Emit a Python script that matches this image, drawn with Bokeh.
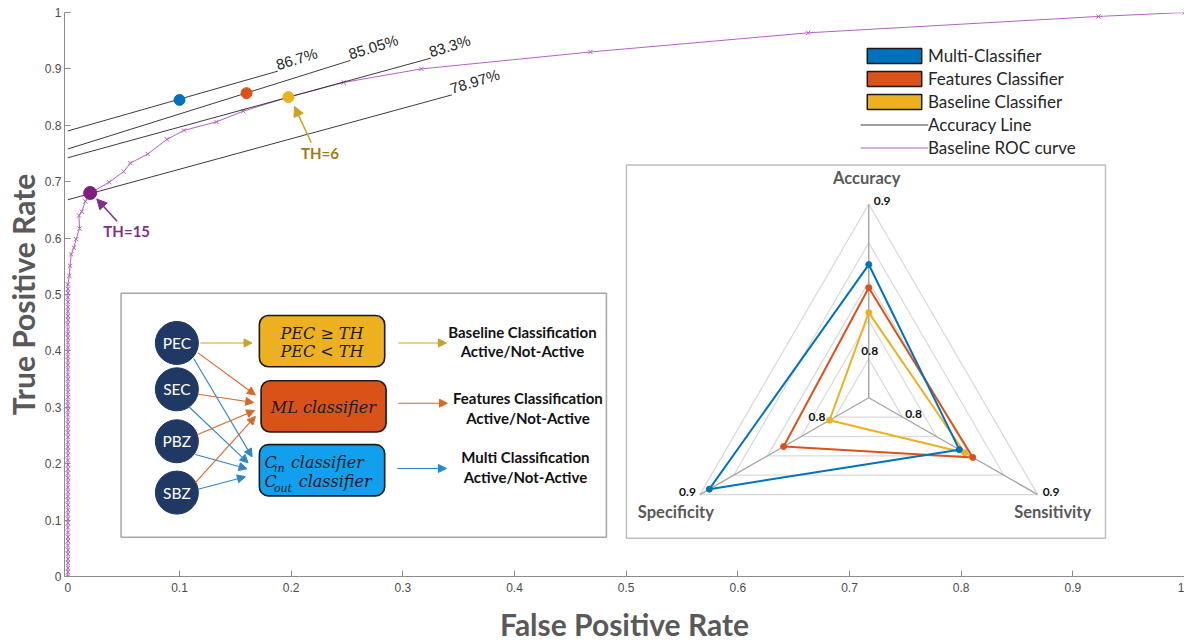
import math
from bokeh.plotting import figure
from bokeh.models import (Range1d, FixedTicker, CustomJSTickFormatter, Legend, LegendItem,
                          Arrow, NormalHead)
from bokeh.core.properties import value
from bokeh.embed import file_html
from bokeh.resources import INLINE

# ---------------- data ----------------
x_ticks = [0, 0.1, 0.2, 0.3, 0.4, 0.5, 0.6, 0.7, 0.8, 0.9, 1.0]
y_ticks = [0, 0.1, 0.2, 0.3, 0.4, 0.5, 0.6, 0.7, 0.8, 0.9, 1.0]

# baseline ROC curve (threshold sweep)
roc_fpr = [0, 0, 0, 0, 0, 0, 0, 0, 0, 0, 0, 0, 0, 0, 0, 0, 0, 0, 0, 0, 0, 0, 0, 0, 0, 0,
           0, 0, 0, 0, 0, 0, 0, 0, 0, 0, 0, 0, 0, 0, 0, 0, 0, 0, 0, 0, 0, 0, 0, 0, 0, 0,
           0, 0, 0, 0, 0, 0, 0, 0, 0, 0, 0, 0, 0, 0,
           0.0013, 0.002, 0.003, 0.0054, 0.0074, 0.0105, 0.0099, 0.0125, 0.0157, 0.020,
           0.037, 0.050, 0.056, 0.0715, 0.0887, 0.104, 0.133, 0.157, 0.1975, 0.247,
           0.3166, 0.468, 0.663, 0.923, 1.0]
roc_tpr = [0, 0.008, 0.015, 0.024, 0.031, 0.04, 0.047, 0.055, 0.063, 0.07, 0.078, 0.087,
           0.095, 0.102, 0.11, 0.118, 0.127, 0.135, 0.142, 0.15, 0.158, 0.167, 0.175,
           0.183, 0.19, 0.198, 0.206, 0.215, 0.223, 0.23, 0.238, 0.247, 0.255, 0.262,
           0.27, 0.278, 0.287, 0.295, 0.303, 0.31, 0.318, 0.327, 0.335, 0.342, 0.35,
           0.358, 0.367, 0.375, 0.383, 0.39, 0.398, 0.406, 0.415, 0.423, 0.43, 0.438,
           0.447, 0.455, 0.462, 0.47, 0.478, 0.487, 0.495, 0.503, 0.51, 0.518,
           0.533, 0.551, 0.571, 0.583, 0.598, 0.617, 0.640, 0.647, 0.665, 0.680,
           0.699, 0.718, 0.733, 0.749, 0.775, 0.791, 0.806, 0.825, 0.850, 0.876,
           0.900, 0.930, 0.964, 0.993, 1.0]

classifiers = ["Multi-Classifier", "Features Classifier", "Baseline Classifier"]
clf_colors = ["#0072BD", "#D95319", "#EDB120"]
clf_fpr = [0.100, 0.160, 0.1975]
clf_tpr = [0.845, 0.857, 0.850]
th15_fpr = [0.020]
th15_tpr = [0.680]

acc_labels = ["86.7%", "85.05%", "83.3%", "78.97%"]
acc_x0 = [0, 0, 0, 0]
acc_y0 = [0.790, 0.758, 0.7425, 0.668]
acc_x1 = [0.188, 0.253, 0.325, 0.344]
acc_y1 = [0.896, 0.915, 0.919, 0.854]

radar_axes = ["Accuracy", "Sensitivity", "Specificity"]
radar_acc = [0.861, 0.846, 0.830]
radar_sens = [0.842, 0.852, 0.846]
radar_spec = [0.893, 0.838, 0.804]
radar_min, radar_max = 0.775, 0.9
radar_rings = [0.8, 0.825, 0.85, 0.875, 0.9]

inputs = ["PEC", "SEC", "PBZ", "SBZ"]
out_line1 = ["Baseline Classification", "Features Classification", "Multi Classification"]
out_line2 = ["Active/Not-Active", "Active/Not-Active", "Active/Not-Active"]

# ---------------- layout helpers (reference pixel -> data space) ----------------
def X(px):
    return (px - 67.5) / 1116.5

def Y(py):
    return (579.5 - py) / 568.0

W, H = 1184, 644
p = figure(width=W, height=H, x_range=Range1d(-0.003, 1), y_range=Range1d(0, 1),
           output_backend="svg", toolbar_location=None,
           min_border_left=64, min_border_right=0, min_border_top=12, min_border_bottom=64)
p.xgrid.visible = False
p.ygrid.visible = False
p.outline_line_color = None
p.background_fill_color = "white"

fmt = CustomJSTickFormatter(code="if (Math.abs(tick) < 1e-9) return '0'; if (Math.abs(tick-1) < 1e-9) return '1'; return tick.toFixed(1);")
for ax, ticks in ((p.xaxis[0], x_ticks), (p.yaxis[0], y_ticks)):
    ax.ticker = FixedTicker(ticks=ticks)
    ax.formatter = fmt
    ax.axis_line_color = "#8c8c8c"
    ax.major_tick_line_color = "#8c8c8c"
    ax.major_tick_in = 6
    ax.major_tick_out = 0
    ax.minor_tick_line_color = None
    ax.major_label_text_font = "Liberation Sans"
    ax.major_label_text_font_size = "12px"
    ax.major_label_text_color = "#4d4d4d"
    ax.axis_label_text_font = "Lato"
    ax.axis_label_text_font_style = "bold"
    ax.axis_label_text_font_size = "30px"
    ax.axis_label_text_color = "#595959"
p.xaxis.axis_label = "False Positive Rate"
p.yaxis.axis_label = "True Positive Rate"
p.xaxis.major_label_standoff = 6
p.yaxis.major_label_standoff = 3
p.xaxis.axis_label_standoff = 11
p.yaxis.axis_label_standoff = 1

ROC_C = "#B661C6"
# ROC curve
roc_line = p.line(roc_fpr, roc_tpr, line_color=ROC_C, line_width=1)
p.scatter(roc_fpr, roc_tpr, marker="x", size=6, line_color=ROC_C, line_width=1)

# accuracy lines
acc_seg = p.segment(x0=acc_x0, y0=acc_y0, x1=acc_x1, y1=acc_y1, line_color="#262626", line_width=0.9)
p.text(x=acc_x1, y=acc_y1, text=acc_labels, angle=17, angle_units="deg", x_offset=1, y_offset=2,
       text_font=value("Liberation Sans"), text_font_size="15px", text_color="#262626",
       text_align="left", text_baseline="bottom")

# classifier operating points
p.scatter(clf_fpr, clf_tpr, marker="circle", size=11, fill_color=clf_colors, line_color=clf_colors)
p.scatter(th15_fpr, th15_tpr, marker="circle", size=13, fill_color="#7E1E80", line_color="#7E1E80")

# TH annotations
TH6_C = "#A07A12"
TH15_C = "#7E2F8E"
bx, by = clf_fpr[2], clf_tpr[2]
p.add_layout(Arrow(end=NormalHead(size=10, fill_color="#C9A227", line_color="#C9A227"),
                   x_start=bx + 0.0205, y_start=by - 0.081, x_end=bx + 0.0054, y_end=by - 0.0164,
                   line_color="#C9A227", line_width=1.5))
p.text(x=[bx + 0.0283], y=[by - 0.0986], text=["TH=6"], text_font=value("Lato"),
       text_font_style="bold", text_font_size="15px", text_color=TH6_C,
       text_align="center", text_baseline="middle")
tx, ty = th15_fpr[0], th15_tpr[0]
p.add_layout(Arrow(end=NormalHead(size=10, fill_color=TH15_C, line_color=TH15_C),
                   x_start=tx + 0.0241, y_start=ty - 0.050, x_end=tx + 0.0059, y_end=ty - 0.0106,
                   line_color=TH15_C, line_width=1.5))
p.text(x=[tx + 0.0327], y=[ty - 0.068], text=["TH=15"], text_font=value("Lato"),
       text_font_style="bold", text_font_size="15px", text_color=TH15_C,
       text_align="center", text_baseline="middle")

# ---------------- diagram inset ----------------
p.quad(left=[X(120.7)], right=[X(606)], top=[Y(294.3)], bottom=[Y(540)],
       fill_color="white", line_color="#A6A6A6", line_width=1.5)

circ_px = 176.5
circ_py = [344.3, 391.0, 443.3, 495.0]
p.scatter([X(circ_px)] * 4, [Y(v) for v in circ_py], marker="circle", size=43,
          fill_color="#1F3864", line_color="#1F3864")
p.text(x=[X(circ_px)] * 4, y=[Y(v) for v in circ_py], text=inputs, text_font=value("Lato"),
       text_font_size="15.5px", text_color="white", text_align="center", text_baseline="middle")

box_l = [259.0, 260.7, 259.0]
box_r = [384.3, 385.7, 384.3]
box_t = [316.7, 382.3, 446.7]
box_b = [368.3, 434.0, 498.3]
box_fill = ["#EDB120", "#D95319", "#12A0EE"]
p.quad(left=[X(v) for v in box_l], right=[X(v) for v in box_r],
       top=[Y(v) for v in box_t], bottom=[Y(v) for v in box_b],
       fill_color=box_fill, line_color="#1a1a1a", line_width=1.6, border_radius=9)

MF = value("DejaVu Serif")
p.text(x=[X(321.5), X(321.5), X(323)], y=[Y(334.3), Y(353.3), Y(409)],
       text=["PEC ≥ TH", "PEC < TH", "ML classifier"], text_font=MF, text_font_style="italic",
       text_font_size="16px", text_color="#1a1a1a", text_align="center", text_baseline="middle")
p.text(x=[X(264), X(264)], y=[Y(464.3), Y(484)], text=["C", "C"], text_font=MF,
       text_font_style="italic", text_font_size="16px", text_color="#1a1a1a",
       text_align="left", text_baseline="middle")
p.text(x=[X(273.5), X(273.5)], y=[Y(471), Y(490.5)], text=["in", "out"], text_font=MF,
       text_font_style="italic", text_font_size="11px", text_color="#1a1a1a",
       text_align="left", text_baseline="middle")
p.text(x=[X(290.5), X(298.3)], y=[Y(464.3), Y(484)], text=["classifier", "classifier"],
       text_font=MF, text_font_style="italic", text_font_size="16px", text_color="#1a1a1a",
       text_align="left", text_baseline="middle")

ARR_Y = "#C9A227"
ARR_O = "#D5692B"
ARR_B = "#2E86C8"
arrows = [
    (200.0, 344.3, 251.7, 344.3, ARR_Y),
    (197.7, 354.3, 255.0, 396.7, ARR_O),
    (193.3, 360.0, 251.7, 459.0, ARR_B),
    (197.7, 396.0, 253.3, 404.3, ARR_O),
    (188.3, 408.3, 247.7, 465.0, ARR_B),
    (196.7, 436.7, 254.3, 412.3, ARR_O),
    (195.0, 456.7, 246.7, 471.0, ARR_B),
    (195.0, 485.0, 255.0, 418.3, ARR_O),
    (197.7, 491.7, 245.0, 479.0, ARR_B),
    (398.0, 344.3, 446.0, 344.3, ARR_Y),
    (398.0, 405.0, 447.0, 405.0, ARR_O),
    (397.0, 470.7, 446.0, 470.7, ARR_B),
]
for x0, y0, x1, y1, c in arrows:
    p.add_layout(Arrow(end=NormalHead(size=8, fill_color=c, line_color=c),
                       x_start=X(x0), y_start=Y(y0), x_end=X(x1), y_end=Y(y1),
                       line_color=c, line_width=1.1))

out_cx = [522.0, 527.5, 525.0]
out_y1 = [333.0, 400.0, 459.0]
out_y2 = [352.5, 419.5, 479.0]
p.text(x=[X(v) for v in out_cx] * 2, y=[Y(v) for v in out_y1] + [Y(v) for v in out_y2],
       text=out_line1 + out_line2, text_font=value("Lato"), text_font_style="bold",
       text_font_size="15px", text_color="#111111", text_align="center", text_baseline="middle")

# ---------------- radar inset ----------------
p.quad(left=[X(626)], right=[X(1105)], top=[Y(165)], bottom=[Y(541)],
       fill_color="white", line_color="#BFBFBF", line_width=1.5)

RCX, RCY, RR = 868.3, 399.5, 195.0
ANG = [90.0, -30.0, 210.0]  # Accuracy, Sensitivity, Specificity

def rpx(v, ang):
    r = RR * (v - radar_min) / (radar_max - radar_min)
    a = math.radians(ang)
    return RCX + r * math.cos(a), RCY - r * math.sin(a)

def rpt(v, ang):
    px, py = rpx(v, ang)
    return X(px), Y(py)

# rings
ring_xs, ring_ys = [], []
for rv in radar_rings:
    pts = [rpt(rv, a) for a in ANG + [ANG[0]]]
    ring_xs.append([q[0] for q in pts])
    ring_ys.append([q[1] for q in pts])
p.multi_line(ring_xs, ring_ys, line_color="#D9D9D9", line_width=1.2)
# spokes
spk = [rpt(radar_max, a) for a in ANG]
cxd, cyd = rpt(radar_min, 90)
p.segment(x0=[cxd] * 3, y0=[cyd] * 3, x1=[q[0] for q in spk], y1=[q[1] for q in spk],
          line_color="#A6A6A6", line_width=1.4)

# series polygons
series = [radar_acc, radar_sens, radar_spec]
for i in [2, 1, 0]:
    vals = [series[k][i] for k in range(3)]
    pts = [rpt(vals[k], ANG[k]) for k in range(3)]
    xs = [q[0] for q in pts] + [pts[0][0]]
    ys = [q[1] for q in pts] + [pts[0][1]]
    p.line(xs, ys, line_color=clf_colors[i], line_width=2)
    p.scatter(xs[:3], ys[:3], marker="circle", size=6, fill_color=clf_colors[i], line_color=clf_colors[i])

# radar axis titles
t_acc = rpx(radar_max, 90)
t_sen = rpx(radar_max, -30)
t_spe = rpx(radar_max, 210)
p.text(x=[X(t_acc[0] - 2), X(t_sen[0] + 15), X(t_spe[0] - 24)],
       y=[Y(t_acc[1] - 26), Y(t_sen[1] + 18), Y(t_spe[1] + 18)],
       text=radar_axes, text_font=value("Lato"), text_font_style="bold", text_font_size="16.5px",
       text_color="#595959", text_align="center", text_baseline="middle")
# radar value labels
p.text(x=[X(t_acc[0] + 5), X(t_sen[0] + 5)], y=[Y(t_acc[1] - 3), Y(t_sen[1] - 3)],
       text=["0.9", "0.9"], text_font=value("Lato"), text_font_style="bold", text_font_size="12px",
       text_color="#111111", text_align="left", text_baseline="middle")
p.text(x=[X(t_spe[0] - 4)], y=[Y(t_spe[1] - 3)], text=["0.9"], text_font=value("Lato"),
       text_font_style="bold", text_font_size="12px", text_color="#111111",
       text_align="right", text_baseline="middle")
r8a = rpx(radar_rings[0], 90)
r8s = rpx(radar_rings[0], -30)
r8p = rpx(radar_rings[0], 210)
p.text(x=[X(r8a[0] + 1), X(r8s[0] + 11), X(r8p[0] - 18)],
       y=[Y(r8a[1] - 8), Y(r8s[1] - 3), Y(r8p[1])],
       text=["0.8", "0.8", "0.8"], text_font=value("Lato"), text_font_style="bold",
       text_font_size="12px", text_color="#111111", text_align="center", text_baseline="middle")

# ---------------- legend ----------------
# swatch renderers sit outside the visible ranges; they only feed the legend
leg_r = [p.quad(left=[-2], right=[-1.9], top=[-1.9], bottom=[-2], fill_color=c,
                line_color="#1a1a1a", line_width=1.5) for c in clf_colors]
items = [LegendItem(label=classifiers[i], renderers=[leg_r[i]]) for i in range(3)]
items.append(LegendItem(label="Accuracy Line", renderers=[acc_seg]))
items.append(LegendItem(label="Baseline ROC curve", renderers=[roc_line]))
legend = Legend(items=items, location=(796, 418), glyph_width=68, glyph_height=19,
                spacing=2, padding=0, margin=0, label_standoff=0, label_height=19,
                label_text_font="Lato", label_text_font_size="17px", label_text_color="#262626",
                border_line_color=None, background_fill_alpha=0)
p.add_layout(legend)

open("out.html", "w").write(file_html(p, INLINE))
